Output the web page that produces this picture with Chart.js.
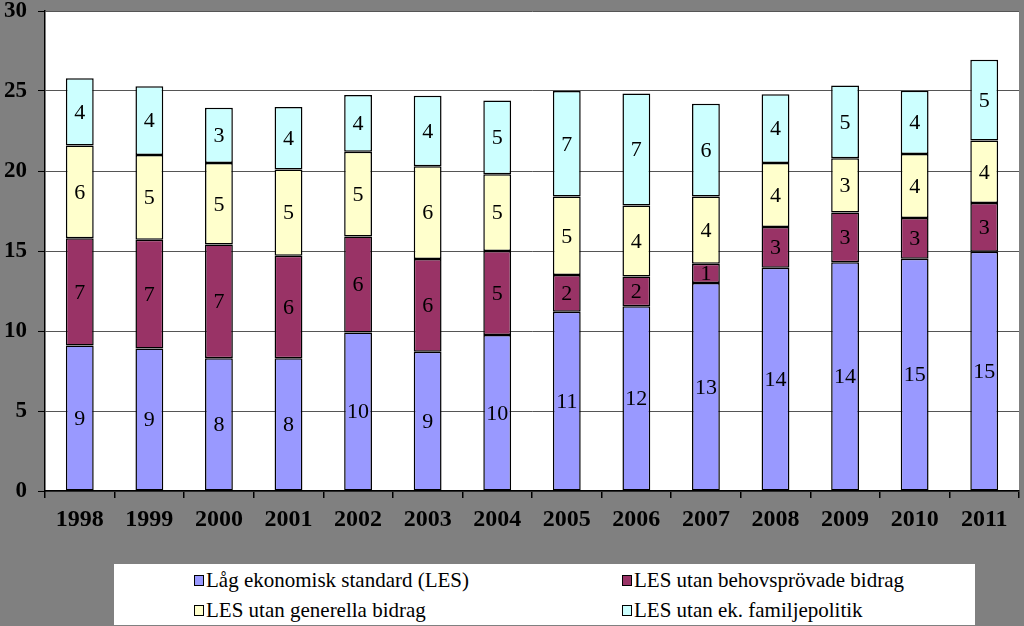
<!DOCTYPE html>
<html>
<head>
<meta charset="utf-8">
<script src="https://cdn.jsdelivr.net/npm/chart.js@4.4.1/dist/chart.umd.min.js"></script>
<style>
  html, body { margin: 0; padding: 0; background: #808080; }
  #wrap { position: relative; width: 1024px; height: 626px; }
  #c { position: absolute; left: 0; top: 0; }
  #legend {
    position: absolute; left: 114px; top: 564px; width: 861px; height: 61px;
    background: #fff; font-family: 'Liberation Serif', serif;
    font-size: 21px; color: #000;
  }
  .item { position: absolute; display: flex; align-items: center; white-space: nowrap; }
  .sw { width: 8px; height: 9px; border: 1px solid #000; margin-right: 2px; }
</style>
</head>
<body>
<div id="wrap">
  <canvas id="c" width="1024" height="626"></canvas>
  <div id="legend"></div>
</div>
<script>
const categories = ["1998","1999","2000","2001","2002","2003","2004","2005","2006","2007","2008","2009","2010","2011"];
const seriesNames = ["Låg ekonomisk standard (LES)", "LES utan behovsprövade bidrag", "LES utan generella bidrag", "LES utan ek. familjepolitik"];
const lesValues      = [9.1, 8.9, 8.3, 8.3, 9.9, 8.7, 9.75, 11.2, 11.55, 13.0, 13.95, 14.3, 14.52, 14.95];
const behovsValues   = [6.7, 6.8, 7.1, 6.4, 6.0, 5.8, 5.25, 2.3, 1.85, 1.2, 2.55, 3.1, 2.55, 3.05];
const generellaValues= [5.8, 5.3, 5.1, 5.4, 5.3, 5.8, 4.8, 4.9, 4.45, 4.2, 4.0, 3.4, 4.0, 3.9];
const familjValues   = [4.2, 4.3, 3.45, 3.9, 3.55, 4.4, 4.6, 6.6, 7.0, 5.8, 4.3, 4.55, 3.95, 5.05];
const yTicks = [0, 5, 10, 15, 20, 25, 30];
const colors = ["#9999FF", "#993366", "#FFFFCC", "#CCFFFF"];

const seriesValues = [lesValues, behovsValues, generellaValues, familjValues];
const serif = "'Liberation Serif', serif";

const bgPlugin = {
  id: 'bg',
  beforeDraw(chart) {
    const ctx = chart.ctx, a = chart.chartArea;
    ctx.save();
    ctx.fillStyle = '#808080';
    ctx.fillRect(0, 0, chart.width, chart.height);
    ctx.fillStyle = '#ffffff';
    ctx.fillRect(a.left, a.top, a.right - a.left, a.bottom - a.top);
    ctx.restore();
  }
};

const labelPlugin = {
  id: 'vlabels',
  afterDatasetsDraw(chart) {
    const ctx = chart.ctx;
    ctx.save();
    ctx.font = '22px ' + serif;
    ctx.fillStyle = '#000';
    ctx.textAlign = 'center';
    ctx.textBaseline = 'middle';
    chart.data.datasets.forEach((ds, i) => {
      const meta = chart.getDatasetMeta(i);
      meta.data.forEach((bar, j) => {
        const p = bar.getProps(['x', 'y', 'base'], true);
        ctx.fillText(String(Math.round(ds.data[j])), p.x, (p.y + p.base) / 2 + 1);
      });
    });
    ctx.restore();
  }
};

new Chart(document.getElementById('c'), {
  type: 'bar',
  data: {
    labels: categories,
    datasets: seriesValues.map((vals, i) => ({
      label: seriesNames[i],
      data: vals,
      backgroundColor: colors[i],
      borderColor: '#000',
      borderWidth: 1.5,
      borderSkipped: false,
      barPercentage: 0.4,
      categoryPercentage: 1.0
    }))
  },
  options: {
    responsive: false,
    animation: false,
    devicePixelRatio: 1,
    layout: { padding: { top: 11, right: 5, left: 0, bottom: 0 } },
    plugins: { legend: { display: false }, tooltip: { enabled: false } },
    scales: {
      x: {
        stacked: true,
        afterFit(scale) { scale.height = 135; },
        grid: { display: true, offset: true, drawOnChartArea: false, drawTicks: true, tickLength: 7, color: '#000', lineWidth: 1.5 },
        border: { display: true, color: '#000', width: 1.5 },
        ticks: { color: '#000', padding: 7, font: { family: serif, size: 24, weight: 'bold' } }
      },
      y: {
        stacked: true,
        min: 0, max: 30,
        afterFit(scale) { scale.width = 45; scale.paddingTop = 0; },
        afterBuildTicks(scale) { scale.ticks = yTicks.map(v => ({ value: v })); },
        grid: { color: '#555', lineWidth: 1, tickLength: 7, tickColor: '#000', drawTicks: true },
        border: { display: true, color: '#000', width: 1.5 },
        ticks: { color: '#000', padding: 11, font: { family: serif, size: 23, weight: 'bold' } }
      }
    }
  },
  plugins: [bgPlugin, labelPlugin]
});

// HTML legend
const legend = document.getElementById('legend');
const pos = [[80, 16], [508, 16], [80, 46], [508, 46]];
seriesNames.forEach((name, i) => {
  const it = document.createElement('div');
  it.className = 'item';
  it.style.left = pos[i][0] + 'px';
  it.style.top = (pos[i][1] - 12) + 'px';
  const sw = document.createElement('span');
  sw.className = 'sw';
  sw.style.background = colors[i];
  const tx = document.createElement('span');
  tx.textContent = name;
  it.appendChild(sw); it.appendChild(tx);
  legend.appendChild(it);
});
</script>
</body>
</html>
